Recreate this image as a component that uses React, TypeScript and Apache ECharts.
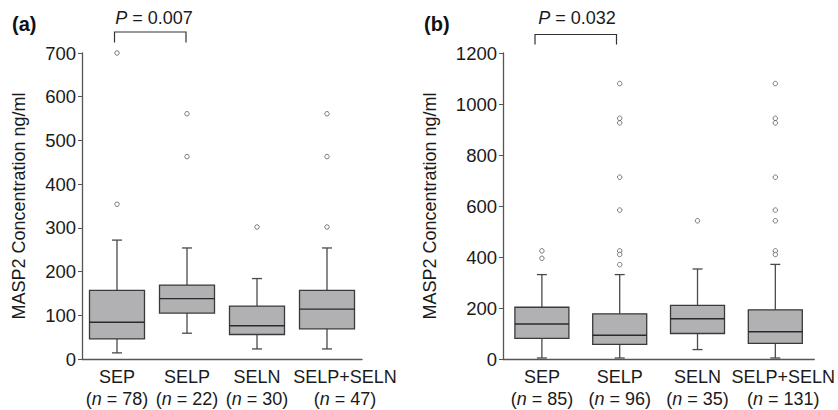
import React, { useEffect, useRef } from "react";
import * as echarts from "echarts";

const categories = ["SEP", "SELP", "SELN", "SELP+SELN"];
const countsA = [78, 22, 30, 47];
const countsB = [85, 96, 35, 131];
// [min, Q1, median, Q3, max]
const boxA = [
  [14, 46, 84, 157, 272],
  [59, 105, 138, 169, 254],
  [23, 56, 76, 121, 184],
  [23, 69, 114, 157, 254],
];
const boxB = [
  [4, 81, 137, 203, 331],
  [4, 57, 93, 177, 331],
  [37, 100, 158, 210, 353],
  [4, 61, 107, 193, 371],
];
// [categoryIndex, value]
const outliersA = [
  [0, 700], [0, 354],
  [1, 561], [1, 463],
  [2, 302],
  [3, 561], [3, 463], [3, 302],
];
const outliersB = [
  [0, 424], [0, 395],
  [1, 1080], [1, 944], [1, 926], [1, 713], [1, 584], [1, 424], [1, 410], [1, 370],
  [2, 542],
  [3, 1080], [3, 944], [3, 926], [3, 713], [3, 584], [3, 542], [3, 424], [3, 410],
];
const yTicksA = { min: 0, max: 700, interval: 100 };
const yTicksB = { min: 0, max: 1200, interval: 200 };

const FONT = "'Liberation Sans', Arial, Helvetica, sans-serif";
const TXT = "#1a1a1a";

function makeBoxSeries(data: number[][], xAxisIndex: number, boxPx: number) {
  return {
    type: "custom",
    xAxisIndex,
    yAxisIndex: xAxisIndex,
    data: data.map((d, i) => [i, ...d]),
    renderItem: (params: any, api: any) => {
      const idx = api.value(0);
      const vals = [1, 2, 3, 4, 5].map((k) => api.value(k));
      const pts = vals.map((v) => api.coord([idx, v]));
      const cx = pts[0][0];
      const hw = boxPx / 2;
      const cap = 5;
      const [pMin, pQ1, pMed, pQ3, pMax] = pts.map((p: number[]) => p[1]);
      const lineStyle = { stroke: "#4a4a4a", lineWidth: 1.3 };
      return {
        type: "group",
        children: [
          { type: "line", shape: { x1: cx, y1: pMax, x2: cx, y2: pQ3 }, style: lineStyle },
          { type: "line", shape: { x1: cx, y1: pQ1, x2: cx, y2: pMin }, style: lineStyle },
          { type: "line", shape: { x1: cx - cap, y1: pMax, x2: cx + cap, y2: pMax }, style: lineStyle },
          { type: "line", shape: { x1: cx - cap, y1: pMin, x2: cx + cap, y2: pMin }, style: lineStyle },
          {
            type: "rect",
            shape: { x: cx - hw, y: pQ3, width: boxPx, height: pQ1 - pQ3 },
            style: { fill: "#b1b1b3", stroke: "#3a3a3a", lineWidth: 1.3 },
          },
          { type: "line", shape: { x1: cx - hw, y1: pMed, x2: cx + hw, y2: pMed }, style: { stroke: "#2a2a2a", lineWidth: 1.4 } },
        ],
      };
    },
  };
}

function makeOutlierSeries(data: number[][], xAxisIndex: number) {
  return {
    type: "scatter",
    xAxisIndex,
    yAxisIndex: xAxisIndex,
    data,
    symbol: "circle",
    symbolSize: 4.5,
    itemStyle: { color: "#fff", borderColor: "#333", borderWidth: 0.8 },
    z: 5,
  };
}

function xAxis(gridIndex: number, counts: number[], lastShift: number) {
  const base = { fontSize: 18, fontFamily: FONT, color: TXT, lineHeight: 22 };
  return {
    type: "category",
    gridIndex,
    data: categories,
    axisLine: { lineStyle: { color: "#555", width: 1.3 } },
    axisTick: { length: 4, lineStyle: { color: "#555" } },
    axisLabel: {
      interval: 0,
      margin: 7,
      color: TXT,
      fontSize: 18,
      fontFamily: FONT,
      lineHeight: 22,
      formatter: (v: string, i: number) =>
        i === categories.length - 1
          ? `{p|${v}}\n{p|(}{i|n} = ${counts[i]})`
          : `${v}\n({i|n} = ${counts[i]})`,
      rich: {
        i: { ...base, fontStyle: "italic" },
        p: { ...base, padding: [0, 0, 0, lastShift * 2] },
      },
    },
  };
}

function yAxis(gridIndex: number, t: { min: number; max: number; interval: number }, nameGap: number) {
  return {
    type: "value",
    gridIndex,
    min: t.min,
    max: t.max,
    interval: t.interval,
    name: "MASP2 Concentration ng/ml",
    nameLocation: "middle",
    nameGap,
    nameTextStyle: { fontSize: 18, color: TXT, fontFamily: FONT },
    axisLine: { show: true, lineStyle: { color: "#555", width: 1.3 } },
    axisTick: { show: true, length: 4, lineStyle: { color: "#555" } },
    axisLabel: { fontSize: 18.5, color: TXT, fontFamily: FONT, margin: 6, formatter: (v: number) => String(v) },
    splitLine: { show: false },
  };
}

export default function App() {
  const ref = useRef<HTMLDivElement>(null);
  useEffect(() => {
    if (!ref.current) return;
    const chart = echarts.init(ref.current, null, { renderer: "svg" });
    chart.setOption({
      animation: false,
      backgroundColor: "#fff",
      grid: [
        { left: 82, top: 53, width: 280, height: 310 },
        { left: 503, top: 53, width: 312, height: 309 },
      ],
      xAxis: [xAxis(0, countsA, 18), xAxis(1, countsB, 8)],
      yAxis: [yAxis(0, yTicksA, 54), yAxis(1, yTicksB, 64)],
      series: [
        makeBoxSeries(boxA, 0, 55),
        makeOutlierSeries(outliersA, 0),
        makeBoxSeries(boxB, 1, 54),
        makeOutlierSeries(outliersB, 1),
      ],
      graphic: [
        { type: "text", left: 12, top: 14, style: { text: "(a)", font: `bold 20px ${FONT}`, fill: "#111" } },
        { type: "text", left: 424, top: 14, style: { text: "(b)", font: `bold 20px ${FONT}`, fill: "#111" } },
        {
          type: "text",
          x: 154,
          y: 18,
          style: {
            text: "{i|P} = 0.007",
            align: "center",
            verticalAlign: "middle",
            font: `18px ${FONT}`,
            fill: TXT,
            rich: { i: { fontStyle: "italic", fontSize: 18, fontFamily: FONT, fill: TXT } },
          },
        },
        {
          type: "polyline",
          shape: { points: [[114.5, 42.5], [114.5, 32], [186, 32], [186, 42.5]] },
          style: { stroke: "#333", lineWidth: 1.2, fill: null },
        },
        {
          type: "text",
          x: 577,
          y: 18,
          style: {
            text: "{i|P} = 0.032",
            align: "center",
            verticalAlign: "middle",
            font: `18px ${FONT}`,
            fill: TXT,
            rich: { i: { fontStyle: "italic", fontSize: 18, fontFamily: FONT, fill: TXT } },
          },
        },
        {
          type: "polyline",
          shape: { points: [[535, 44.5], [535, 34.5], [616.5, 34.5], [616.5, 44.5]] },
          style: { stroke: "#333", lineWidth: 1.2, fill: null },
        },
      ],
    });
    return () => chart.dispose();
  }, []);
  return <div ref={ref} style={{ width: 838, height: 410, position: "absolute", left: 0, top: 0 }} />;
}
